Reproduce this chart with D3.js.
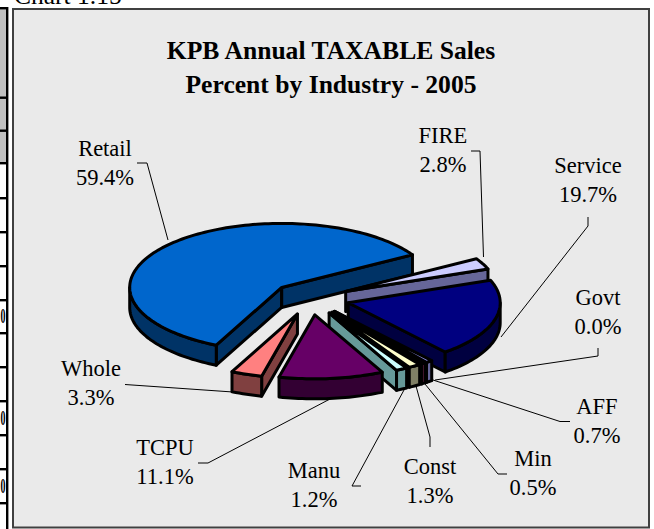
<!DOCTYPE html>
<html><head><meta charset="utf-8">
<style>html,body{margin:0;padding:0;background:#fff}svg{display:block}text{font-family:"Liberation Serif","Times New Roman",serif;fill:#000}</style>
<script src="https://cdn.jsdelivr.net/npm/d3@7/dist/d3.min.js"></script>
</head><body><svg id="c" width="654" height="529"></svg>
<script>
const categories=["Retail","FIRE","Service","Govt","AFF","Min","Const","Manu","TCPU","Whole"];
const percents=[59.4,2.8,19.7,0.0,0.7,0.5,1.3,1.2,11.1,3.3];
const labels=["59.4%","2.8%","19.7%","0.0%","0.7%","0.5%","1.3%","1.2%","11.1%","3.3%"];
const topColors=["#0066CC","#CCCCFF","#000080","#FFFFFF","#9999FF","#993366","#FFFFCC","#CCFFFF","#660066","#FF8080"];
const sideColors=["#003366","#666699","#000040","#808080","#666699","#4D1A33","#808066","#669999","#330033","#804040"];
const labelPos=[[105,156],[443,143],[588,173],[598,305],[597,414],[533,466],[430,474],[314,478],[165,455],[91,376]];
const leaders=[
 [[137,163],[147,163],[168,240]],
 [[471,151],[480,151],[483.5,257]],
 [[588,217],[588,226],[501,337]],
 [[598,348],[598,356],[435,380]],
 [[570,421.5],[560,421.5],[433,380]],
 [[507,474],[498,474],[425,384]],
 [[430,447],[430,437],[416,386]],
 [[361,486],[352,486],[404,390]],
 [[198,463],[208,463],[330,399]],
 [[125,384.5],[233,392]]];
const tableRules=[97.5,130.5,163,198,232,266,300,333,367,401,435,469,503];
const tableDigits=[[316,"0"],[418,"0"],[486,"0"]];

const svg=d3.select("#c");
const rad=d=>d*Math.PI/180;
const cx=310.5,cy=298.5,rx=152,ry=64,depth=20,explode=39,startDeg=205.5;

// Left-hand table fragment
svg.append("rect").attr("x",0).attr("y",8).attr("width",7).attr("height",155).attr("fill","#C0C0C0");
svg.append("g").selectAll("text").data(tableDigits).join("text").attr("x",0.5).attr("y",d=>d[0]+7).attr("font-size",20).attr("font-weight","bold").attr("textLength",5).attr("lengthAdjust","spacingAndGlyphs").text(d=>d[1]);
svg.selectAll(".rule").data([8].concat(tableRules)).join("rect").attr("class","rule").attr("x",0).attr("y",d=>d-1).attr("width",8).attr("height",2.4).attr("fill","#000");
svg.append("rect").attr("x",6).attr("y",7).attr("width",2.4).attr("height",522).attr("fill","#000");

// Panel
svg.append("rect").attr("x",13).attr("y",9).attr("width",636).attr("height",518.5).attr("fill","#EAEAEA").attr("stroke","#404040").attr("stroke-width",2);
svg.append("text").attr("x",14).attr("y",4).attr("font-size",25.5).text("Chart 1.15");
svg.append("text").attr("x",331).attr("y",59).attr("text-anchor","middle").attr("font-size",25.6).attr("font-weight","bold").text("KPB Annual TAXABLE Sales");
svg.append("text").attr("x",331).attr("y",93).attr("text-anchor","middle").attr("font-size",25.6).attr("font-weight","bold").text("Percent by Industry - 2005");

// Pie
const pie=d3.pie().sort(null).value(d=>d).startAngle(rad(startDeg)).endAngle(rad(startDeg+360));
const arcs=pie(percents);
const xS=d3.scaleLinear().domain([-1,1]).range([-rx,rx]);
const yS=d3.scaleLinear().domain([-1,1]).range([-ry,ry]);
const line=d3.line();
function pt(c,a,z){return [c[0]+xS(Math.sin(a)),c[1]+yS(-Math.cos(a))+z];}
function arcPts(c,a0,a1,z){const n=Math.max(2,Math.ceil((a1-a0)/rad(1.5)));return d3.range(n+1).map(i=>pt(c,a0+(a1-a0)*i/n,z));}
const g=svg.append("g").attr("stroke","#000").attr("stroke-width",3).attr("stroke-linejoin","round");
arcs.forEach((d,i)=>{
  if(d.value<=0)return;
  const off=d.startAngle>=2*Math.PI?2*Math.PI:0;
  const a0=d.startAngle-off,a1=d.endAngle-off,m=(a0+a1)/2;
  const c=[cx+xS(Math.sin(m))*explode/rx,cy+yS(-Math.cos(m))*explode/rx];
  const side=sideColors[i],top=topColors[i];
  const poly=p=>g.append("path").attr("d",line(p)+"Z").attr("fill",side);
  const wall=a=>poly([c,pt(c,a,0),pt(c,a,depth),[c[0],c[1]+depth]]);
  if(Math.sin(a0)<0)wall(a0);
  if(Math.sin(a1)>0)wall(a1);
  const f0=Math.max(a0,rad(90)),f1=Math.min(a1,rad(270));
  if(f1>f0){const u=arcPts(c,f0,f1,0),l=arcPts(c,f0,f1,depth).reverse();poly(u.concat(l));}
  g.append("path").attr("d",line([c].concat(arcPts(c,a0,a1,0)))+"Z").attr("fill",top);
});

// Leaders
svg.append("g").selectAll("path").data(leaders).join("path").attr("d",d=>line(d)).attr("fill","none").attr("stroke","#000").attr("stroke-width",1);

// Labels
const lg=svg.append("g").attr("font-size",22.5);
categories.forEach((k,i)=>{
  const [x,y]=labelPos[i];
  lg.append("text").attr("x",x).attr("y",y).attr("text-anchor","middle").text(k);
  lg.append("text").attr("x",x).attr("y",y+29).attr("text-anchor","middle").text(labels[i]);
});
</script></body></html>
